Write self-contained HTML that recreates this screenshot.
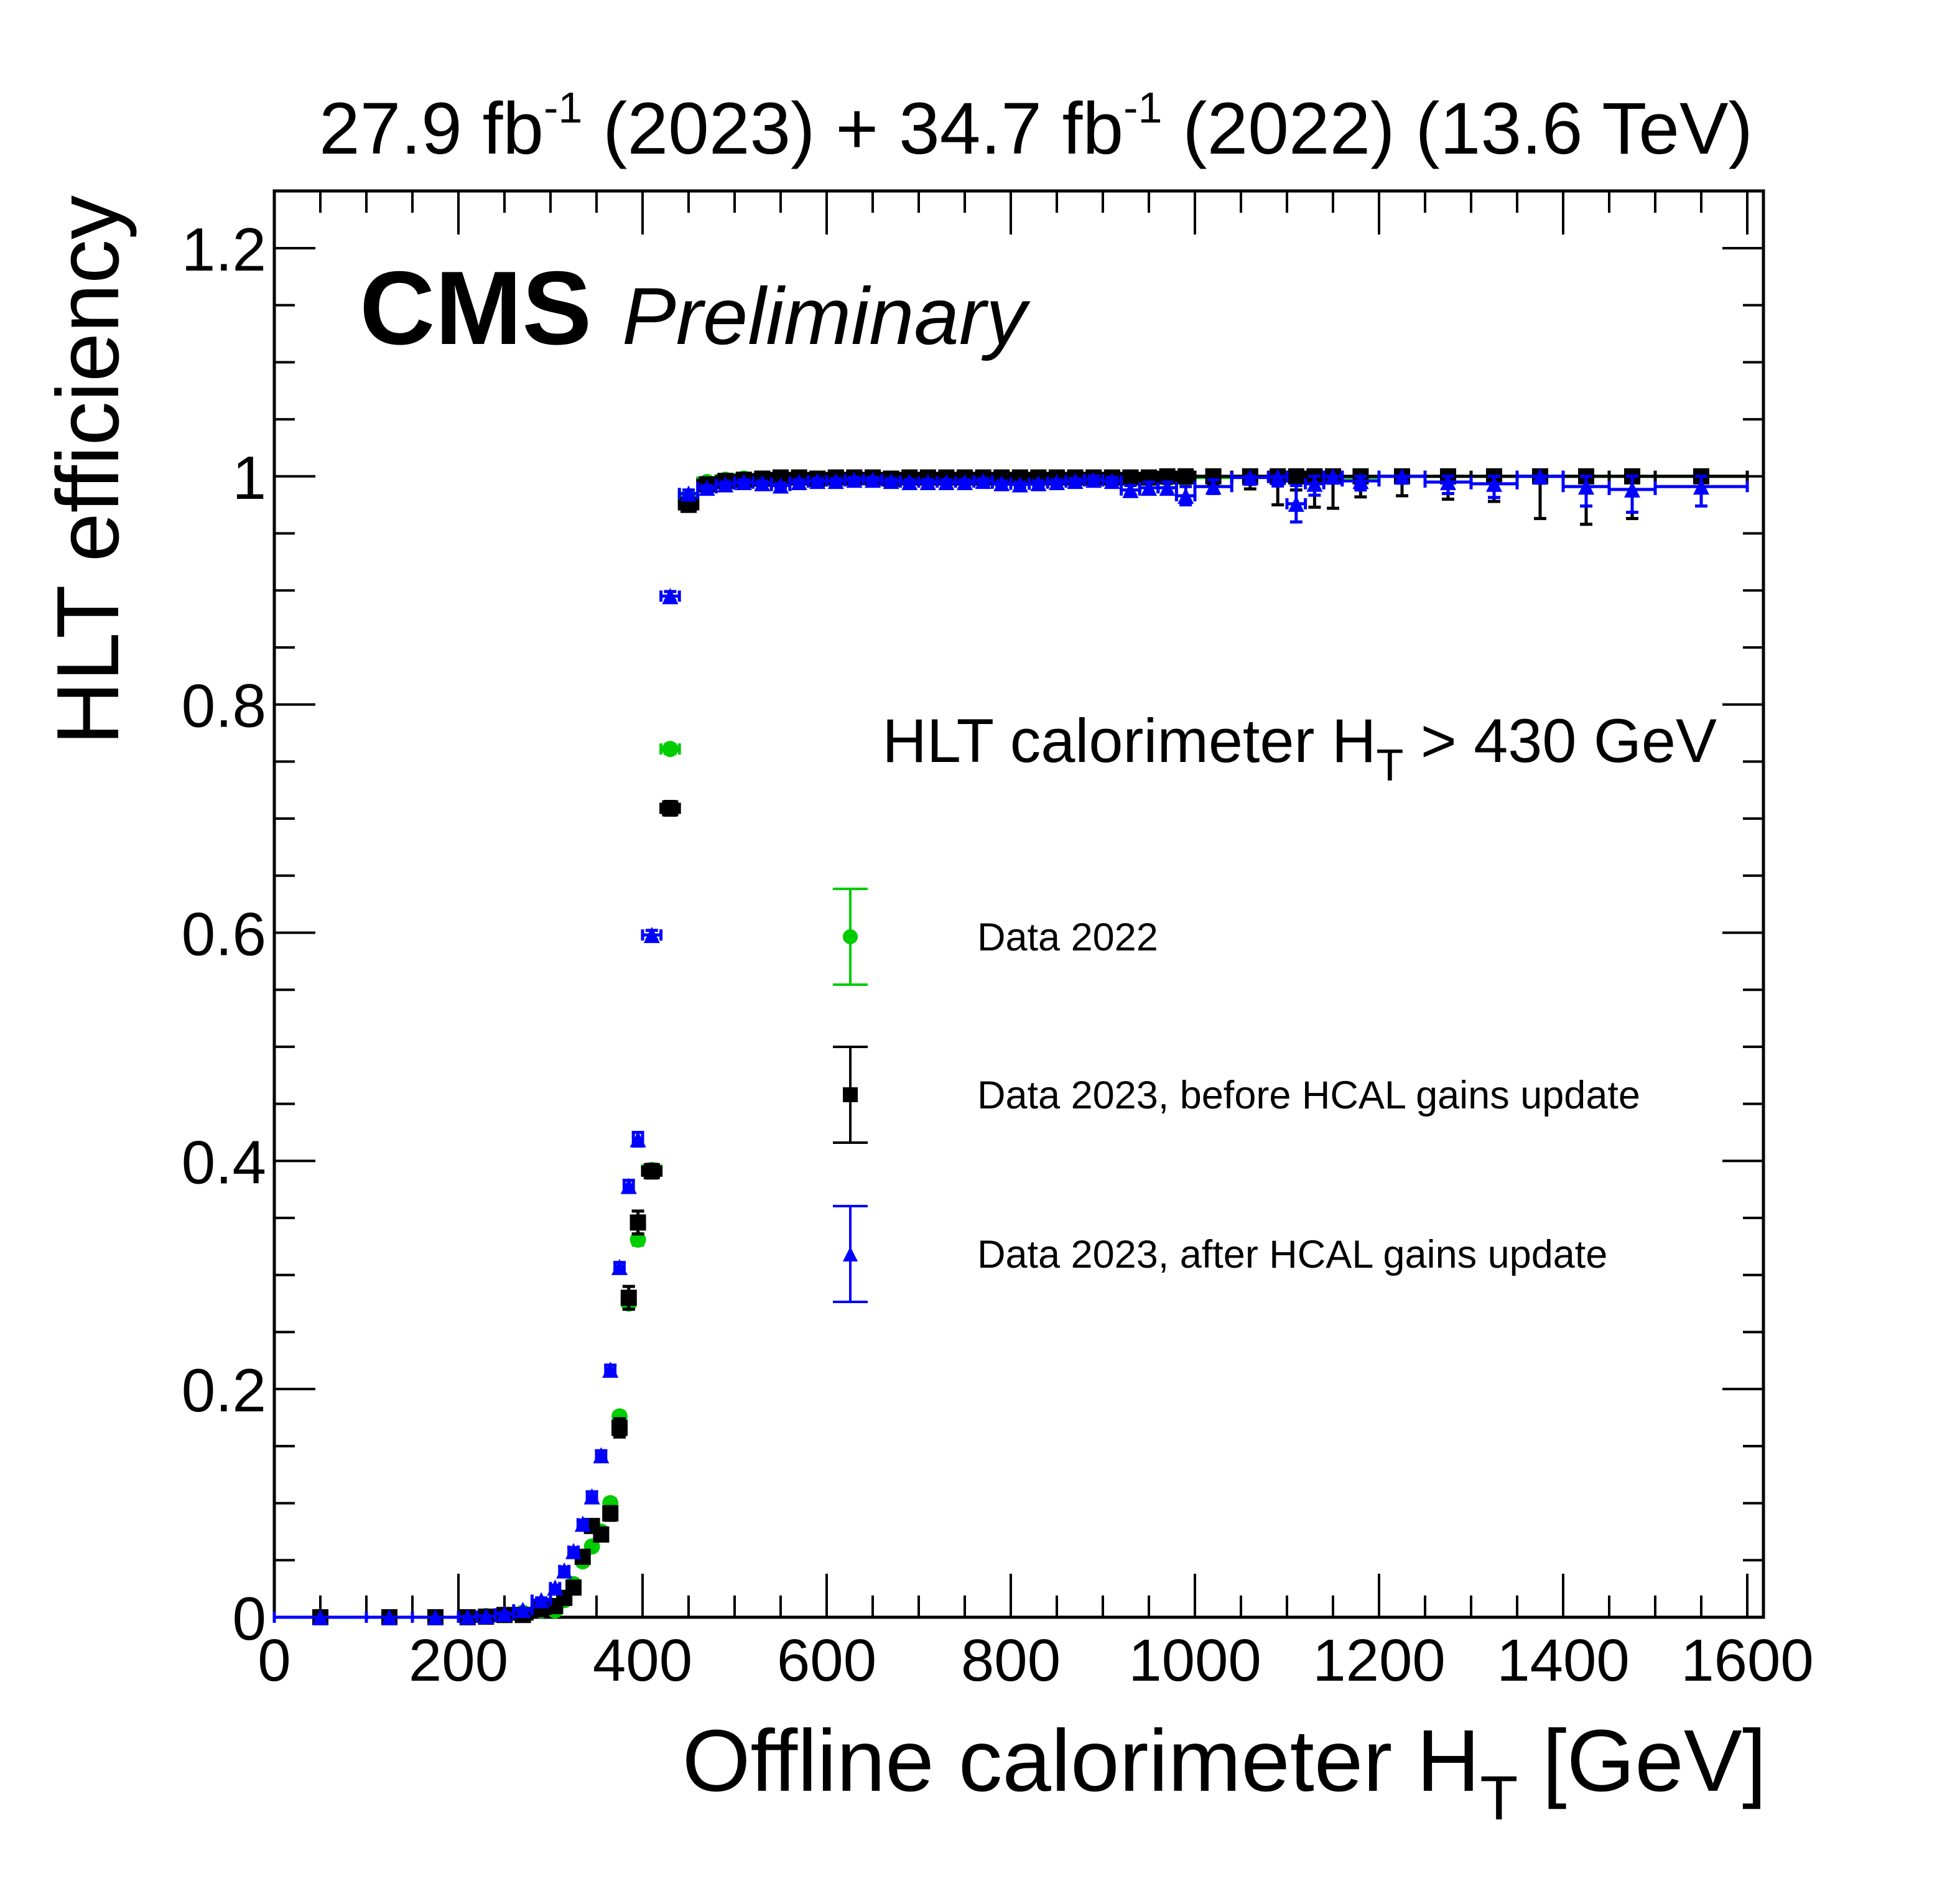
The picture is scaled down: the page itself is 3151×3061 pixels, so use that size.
<!DOCTYPE html>
<html><head><meta charset="utf-8"><style>
html,body{margin:0;padding:0;background:#fff;}
svg{display:block;font-family:"Liberation Sans",Arial,sans-serif;}
</style></head><body>
<svg id="chart" xmlns="http://www.w3.org/2000/svg" width="3151" height="3061" viewBox="0 0 3151 3061">
<rect x="0" y="0" width="3151" height="3061" fill="#fff"/>
<g id="frame-layer"></g>
<g id="data-layer"></g>
<text x="2818" y="247" font-size="118" text-anchor="end" textLength="2305" lengthAdjust="spacingAndGlyphs">27.9 fb<tspan dy="-50" font-size="70">-1</tspan><tspan dy="50"> (2023) + 34.7 fb</tspan><tspan dy="-50" font-size="70">-1</tspan><tspan dy="50"> (2022) (13.6 TeV)</tspan></text>
<text x="578" y="553" font-size="168" font-weight="bold">CMS</text>
<text x="1000" y="553" font-size="130" font-style="italic">Preliminary</text>
<text x="2760" y="1225" font-size="99" text-anchor="end">HLT calorimeter H<tspan dy="30" font-size="72">T</tspan><tspan dy="-30"> &gt; 430 GeV</tspan></text>
<text transform="translate(190,314) rotate(-90)" font-size="142" text-anchor="end">HLT efficiency</text>
<text x="2840" y="2879" font-size="141" text-anchor="end">Offline calorimeter H<tspan dy="46" font-size="100">T</tspan><tspan dy="-46"> [GeV]</tspan></text>
<g id="legend"></g>
</svg>
<script>
const binCenters=[50,125,175,210,230,250,270,290,305,315,325,335,345,355,365,375,385,395,410,430,450,470,490,510,530,550,570,590,610,630,650,670,690,710,730,750,770,790,810,830,850,870,890,910,930,950,970,990,1020,1060,1090,1110,1130,1150,1180,1225,1275,1325,1375,1425,1475,1550];
const binHalfWidths=[50,25,25,10,10,10,10,10,5,5,5,5,5,5,5,5,5,5,10,10,10,10,10,10,10,10,10,10,10,10,10,10,10,10,10,10,10,10,10,10,10,10,10,10,10,10,10,10,20,20,10,10,10,10,20,25,25,25,25,25,25,50];
const effGreen=[0,0,0,0,0.001,0.002,0.004,0.006,0.006,0.015,0.029,0.049,0.062,0.075,0.100,0.176,0.275,0.331,0.392,0.761,0.982,0.995,0.997,0.998,0.998,0.998,0.998,0.998,0.998,0.998,0.998,0.998,0.998,0.998,0.998,0.998,0.998,0.998,0.998,0.998,0.998,0.998,0.998,0.998,0.998,0.998,0.998,0.998,0.999,1,1,1,1,1,0.999,1,1,1,1,1,1,1];
const effBlack=[0,0,0,0,0.0005,0.002,0.002,0.007,0.0098,0.017,0.026,0.053,0.080,0.0725,0.091,0.166,0.280,0.346,0.391,0.709,0.975,0.993,0.996,0.997,0.998,0.999,0.999,0.998,0.999,0.999,0.999,0.998,0.999,0.999,0.999,0.999,0.999,0.999,0.999,0.999,0.999,0.999,0.999,0.999,0.999,0.999,1.0,1.0,1,1,1,1,1,1,1,1,1,1,1,1,1,1];
const effBlue=[0,0,0,0.0005,0.001,0.003,0.0065,0.015,0.026,0.041,0.058,0.082,0.106,0.142,0.217,0.307,0.378,0.419,0.598,0.895,0.985,0.99,0.993,0.995,0.994,0.992,0.995,0.996,0.996,0.997,0.997,0.996,0.995,0.995,0.995,0.995,0.996,0.994,0.993,0.994,0.995,0.996,0.997,0.996,0.988,0.99,0.99,0.983,0.991,0.999,0.9995,0.976,0.9935,1,0.996,1,0.995,0.9935,1,0.991,0.9885,0.991];
const errGreen=[0,0,0,0,0,0,0,0.001,0.001,0.002,0.002,0.003,0.003,0.003,0.004,0.004,0.005,0.005,0.004,0.004,0.002,0.001,0.001,0.001,0.001,0.001,0.001,0.001,0.001,0.001,0.001,0.001,0.001,0.001,0.001,0.001,0.001,0.001,0.001,0.001,0.001,0.001,0.001,0.001,0.001,0.001,0.001,0.001,0.001,0.002,0.003,0.003,0.003,0.003,0.002,0.002,0.003,0.003,0.004,0.004,0.005,0.004];
const errBlack=[0,0,0,0,0,0.001,0.001,0.002,0.002,0.003,0.004,0.004,0.005,0.005,0.006,0.008,0.01,0.01,0.006,0.006,0.005,0.002,0.002,0.002,0.002,0.002,0.002,0.002,0.002,0.002,0.002,0.002,0.002,0.002,0.002,0.002,0.002,0.002,0.002,0.002,0.002,0.002,0.002,0.003,0.004,0.005,0.006,0.006,0.007,0.011,0.025,0.012,0.027,0.028,0.018,0.017,0.02,0.022,0.037,0.042,0.037,0.026];
const errBlue=[0,0,0,0,0,0.001,0.001,0.002,0.002,0.003,0.003,0.003,0.004,0.004,0.004,0.004,0.005,0.006,0.004,0.004,0.003,0.002,0.002,0.002,0.002,0.002,0.002,0.002,0.002,0.002,0.002,0.002,0.002,0.002,0.002,0.002,0.002,0.002,0.002,0.002,0.002,0.002,0.003,0.003,0.004,0.005,0.005,0.008,0.006,0.006,0.008,0.016,0.01,0.006,0.008,0.006,0.01,0.012,0.006,0.017,0.02,0.017];
const xTicks=[0,200,400,600,800,1000,1200,1400,1600];
const xTickLabels=["0","200","400","600","800","1000","1200","1400","1600"];
const yTicks=[0,0.2,0.4,0.6,0.8,1.0,1.2];
const yTickLabels=["0","0.2","0.4","0.6","0.8","1","1.2"];
const legendLabels=["Data 2022","Data 2023, before HCAL gains update","Data 2023, after HCAL gains update"];

const NS="http://www.w3.org/2000/svg";
const X0=441,X1=2835,Y0=2600,Y1=307;
const XMIN=0,XMAX=(X1-X0)/1.48,YMIN=0,YMAX=(Y0-Y1)/1834.2;
function sx(v){return X0+(v-XMIN)/(XMAX-XMIN)*(X1-X0);}
function sy(v){return Y0-(v-YMIN)/(YMAX-YMIN)*(Y0-Y1);}
function mk(tag,attrs,parent){const e=document.createElementNS(NS,tag);for(const k in attrs)e.setAttribute(k,attrs[k]);parent.appendChild(e);return e;}
const frame=document.getElementById('frame-layer');
const data=document.getElementById('data-layer');
const legend=document.getElementById('legend');

let fr=mk('rect',{x:X0,y:Y1,width:X1-X0,height:Y0-Y1,fill:'none',stroke:'#000','stroke-width':5},frame);


for(let v=0;v<=XMAX;v+=50){
  const major=(v%200===0);const L=major?70:35;const x=sx(v);
  let t1=mk('line',{x1:x,y1:Y0,x2:x,y2:Y0-L,stroke:'#000','stroke-width':4},frame);
  
  
  let t2=mk('line',{x1:x,y1:Y1,x2:x,y2:Y1+L,stroke:'#000','stroke-width':4},frame);
  
  
}
xTicks.forEach((v,i)=>{
  let t=mk('text',{x:sx(v),y:2702,'font-size':96,'text-anchor':'middle'},frame);
  t.textContent=xTickLabels[i];
  
  
});
for(let k=0;k*0.05<=YMAX+1e-9;k++){
  const v=k*0.05;const major=(k%4===0);const L=major?66:33;const y=sy(v);
  let t1=mk('line',{x1:X0,y1:y,x2:X0+L,y2:y,stroke:'#000','stroke-width':4},frame);
  
  
  let t2=mk('line',{x1:X1,y1:y,x2:X1-L,y2:y,stroke:'#000','stroke-width':4},frame);
  
  
}
yTicks.forEach((v,i)=>{
  let t=mk('text',{x:428,y:sy(v)+36,'font-size':98,'text-anchor':'end'},frame);
  t.textContent=yTickLabels[i];
  
  
});

function marker(g,shape,cx,cy,color,s){
  let m;
  if(shape==='circle'){m=mk('circle',{cx:cx,cy:cy,r:s/2,fill:color},g);}
  else if(shape==='square'){m=mk('rect',{x:cx-s/2,y:cy-s/2,width:s,height:s,fill:color},g);}
  else {m=mk('polygon',{points:(cx)+','+(cy-s/2)+' '+(cx+s/2)+','+(cy+s/2)+' '+(cx-s/2)+','+(cy+s/2),fill:color},g);}
  return m;
}
function drawSeries(name,vals,errs,color,shape){
  const g=mk('g',{},data);
  
  
  binCenters.forEach((c,i)=>{
    const v=vals[i],e=errs[i];
    const cx=sx(c),cy=sy(v);
    const xl=sx(c-binHalfWidths[i]),xr=sx(c+binHalfWidths[i]);
    const yt=sy(Math.min(1,v+e)),yb=sy(Math.max(0,v-e));
    const eb=mk('path',{d:'M'+xl+' '+cy+'H'+xr+'M'+xl+' '+(cy-9)+'V'+(cy+9)+'M'+xr+' '+(cy-9)+'V'+(cy+9)+(yb-yt>2?('M'+cx+' '+yt+'V'+yb+'M'+(cx-10)+' '+yt+'H'+(cx+10)+'M'+(cx-10)+' '+yb+'H'+(cx+10)):''),stroke:color,'stroke-width':5,fill:'none'},g);
    
    
    const m=marker(g,shape,cx,cy,color,26);
    
    
  });
}
drawSeries('series-data-2022',effGreen,errGreen,'#00cc00','circle');
drawSeries('series-2023-before-hcal',effBlack,errBlack,'#000000','square');
drawSeries('series-2023-after-hcal',effBlue,errBlue,'#0000ff','triangle');

const legColors=['#00cc00','#000000','#0000ff'];
const legShapes=['circle','square','triangle'];
const legY=[1506,1760,2016];
legendLabels.forEach((lab,i)=>{
  const g=mk('g',{},legend);
  
  
  const x=1367,y=legY[i];
  mk('path',{d:'M'+x+' '+(y-77)+'V'+(y+77)+'M'+(x-28)+' '+(y-77)+'H'+(x+28)+'M'+(x-28)+' '+(y+77)+'H'+(x+28),stroke:legColors[i],'stroke-width':4,fill:'none'},g);
  marker(g,legShapes[i],x,y,legColors[i],24);
  const t=mk('text',{x:1571,y:y+22,'font-size':63},g);
  t.textContent=lab;
  
  
});
</script>
</body></html>
